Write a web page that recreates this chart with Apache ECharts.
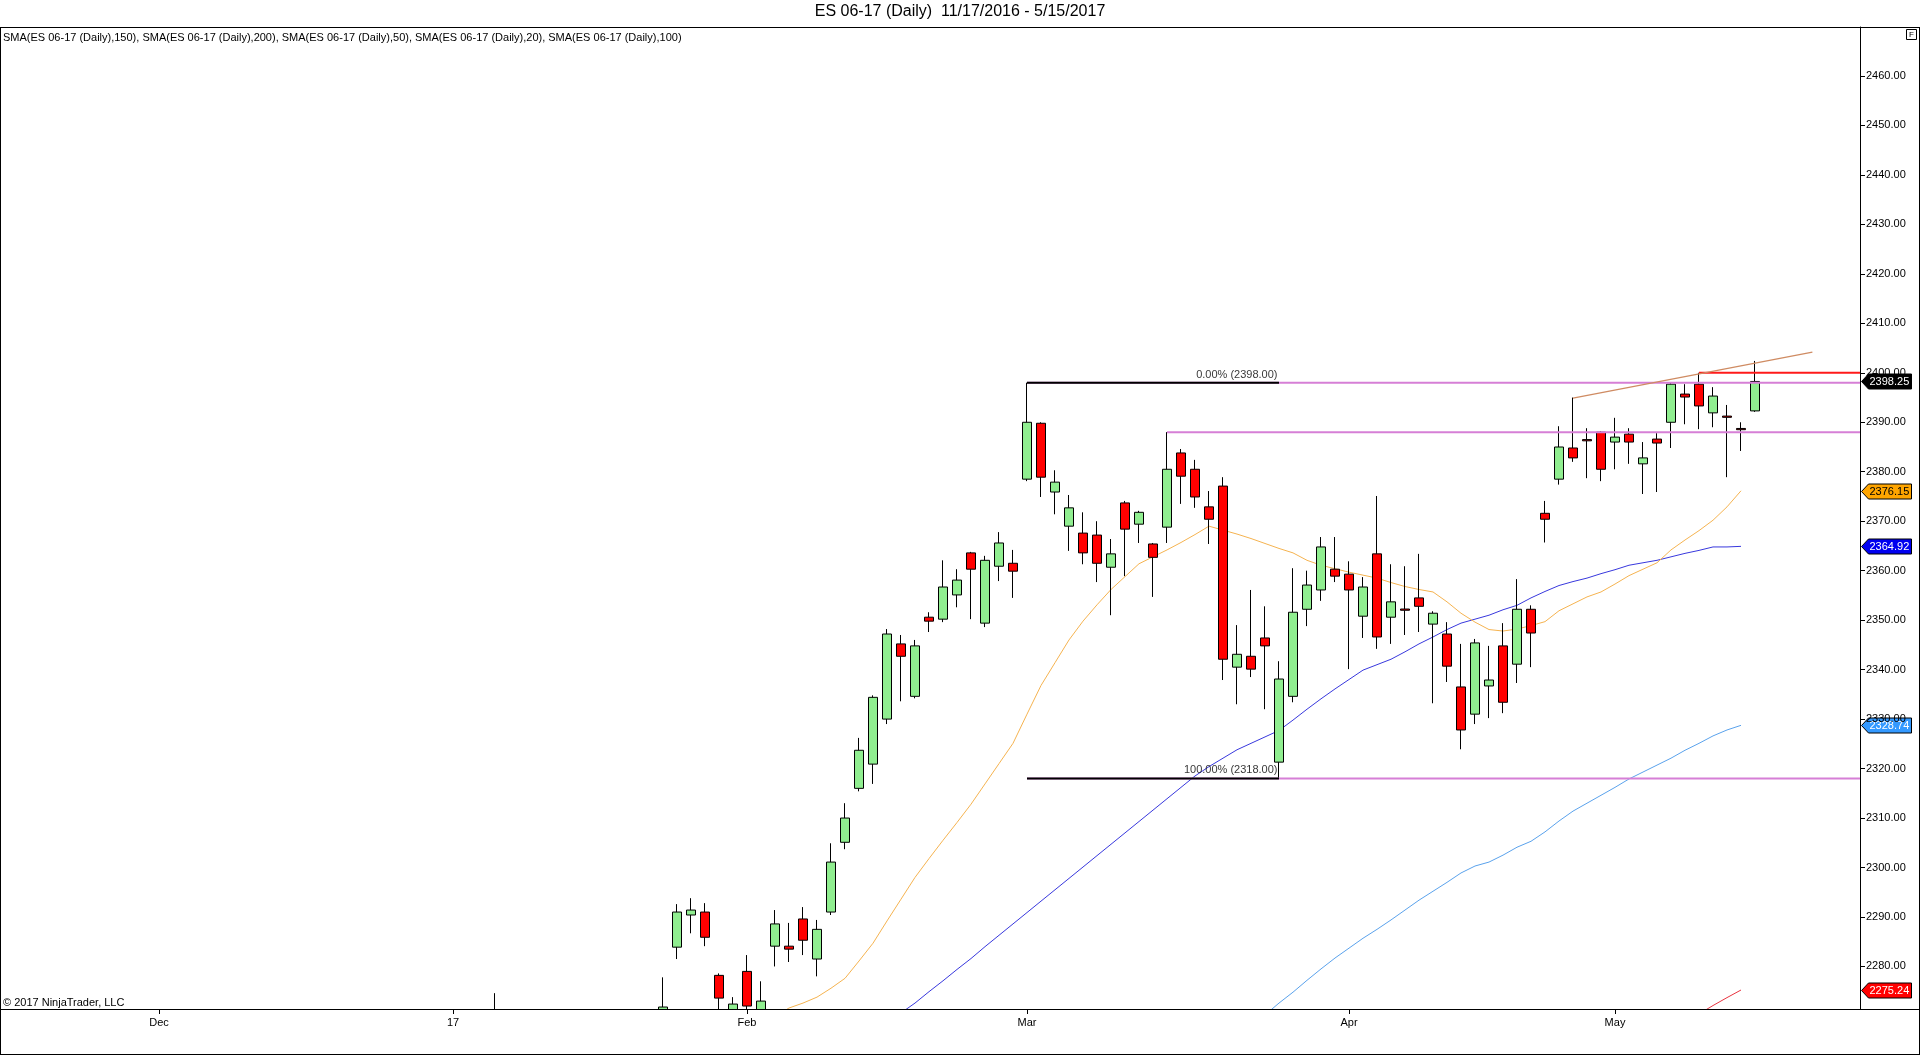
<!DOCTYPE html>
<html><head><meta charset="utf-8">
<script src="https://cdn.jsdelivr.net/npm/echarts@6/dist/echarts.min.js"></script>
<style>html,body{margin:0;padding:0;background:#fff;overflow:hidden}#c{width:1920px;height:1055px}</style>
</head><body><div id="c"></div>
<script>
// ---------- calendar ----------
const calendarFrom = '2016-11-17';
const calendarTo = '2017-05-24';           // includes empty future slots on the right
const holidays = ['2016-12-26', '2017-01-02', '2017-04-14'];
const xTickDates = ['2016-12-01', '2017-01-03', '2017-02-01', '2017-03-01', '2017-04-03', '2017-05-01'];
const xTickLabels = ['Dec', '17', 'Feb', 'Mar', 'Apr', 'May'];

// ---------- price bars (from 2017-01-24 to 2017-05-15) ----------
const candleStart = '2017-01-24';
const opens = [2259,2283.9,2290.4,2291.0,2278.2,2269.5,2279.0,2268.5,2284.1,2284.1,2289.6,2281.5,2291.0,2305.1,2316.0,2320.9,2330.0,2345.2,2334.6,2350.6,2350.2,2355.1,2363.6,2349.4,2360.9,2361.5,2378.5,2389.8,2375.9,2369.0,2367.6,2367.2,2360.7,2373.7,2369.4,2365.4,2368.8,2383.8,2380.5,2372.9,2377.1,2340.5,2342.7,2346.4,2321.3,2334.6,2352.2,2356.1,2360.3,2359.3,2350.8,2363.4,2350.6,2352.25,2354.5,2349.2,2347.2,2336.5,2331.0,2336.7,2344.8,2341.1,2352.2,2371.6,2378.5,2384.8,2386.5,2388.0,2386.0,2387.6,2381.6,2386.6,2390.0,2395.7,2397.7,2391.9,2391.25,2388.75,2392.3];
const closes = [2271.8,2291.0,2291.4,2285.9,2273.6,2272.4,2272.0,2273.0,2288.6,2283.5,2285.3,2287.5,2301.1,2310.0,2323.7,2334.4,2347.2,2342.7,2344.8,2349.8,2356.7,2358.1,2360.3,2362.1,2365.6,2359.9,2390.0,2378.9,2377.9,2372.7,2363.6,2361.5,2363.4,2368.4,2371.8,2362.7,2380.5,2379.1,2374.9,2370.4,2342.1,2343.1,2340.1,2344.8,2338.1,2351.6,2357.1,2364.8,2358.9,2356.1,2356.7,2346.6,2353.7,2352.0,2352.8,2351.4,2340.7,2327.8,2345.4,2337.9,2333.4,2352.2,2347.4,2370.4,2385.0,2382.8,2386.25,2380.5,2387.0,2386.0,2382.8,2385.8,2397.7,2395.1,2393.3,2395.3,2391.0,2388.5,2398.25];
const lows = [2257,2281.5,2286.7,2284.1,2265,2263,2268,2264,2280.0,2280.9,2282.3,2278.0,2290.4,2303.7,2315.4,2316.9,2329.0,2333.6,2334.2,2347.6,2349.6,2352.6,2350.2,2348.6,2357.9,2354.5,2378.1,2374.9,2371.4,2364.0,2361.3,2357.7,2351.0,2358.9,2365.6,2354.7,2365.6,2373.5,2372.7,2365.4,2337.9,2333.0,2338.5,2332.0,2318.0,2333.4,2348.8,2353.9,2357.7,2340.1,2346.4,2344.2,2345.2,2347.0,2347.6,2333.2,2337.5,2323.9,2329.0,2330.2,2331.2,2337.3,2340.5,2365.7,2377.4,2382.0,2378.7,2378.1,2380.5,2381.6,2375.5,2375.9,2384.8,2389.6,2388.6,2389.0,2378.9,2384.2,2392.1];
const highs = [2277.8,2292.6,2293.8,2292.8,2278.6,2273.8,2282.3,2277.0,2291.4,2288.8,2292.0,2289.4,2304.9,2313.0,2326.2,2334.8,2348.2,2347.0,2346.0,2351.6,2362.1,2360.3,2363.8,2363.0,2367.8,2364.2,2398.0,2390.0,2380.3,2375.3,2371.8,2370.0,2366.4,2374.1,2372.1,2365.6,2388.0,2384.6,2382.4,2376.1,2378.9,2349.0,2356.1,2352.8,2341.7,2360.5,2360.0,2366.8,2366.8,2361.9,2358.7,2375.1,2361.3,2360.9,2363.4,2351.8,2349.6,2345.2,2346.2,2344.8,2349.4,2358.3,2353.0,2374.1,2389.2,2395.0,2388.8,2388.2,2390.9,2388.8,2386.0,2387.8,2398.1,2397.7,2400.0,2397.1,2393.5,2390.0,2402.4];
// earlier bar whose wick reaches into view
const earlyDates = ['2017-01-06'];
const earlyOpens = [2266];
const earlyCloses = [2268.5];
const earlyLows = [2262.5];
const earlyHighs = [2274.6];

// ---------- moving averages ----------
const sma20Start = '2017-02-02';
const sma20 = [2268.6,2269.9,2271.6,2272.6,2273.8,2275.6,2277.6,2281.1,2284.7,2289.2,2293.6,2298.0,2301.8,2305.5,2309.1,2312.8,2316.9,2321.0,2325.1,2331.0,2336.8,2341.4,2346.0,2349.8,2353.1,2356.2,2358.8,2361.4,2362.8,2364.2,2365.7,2367.3,2369.0,2368.2,2367.4,2366.5,2365.5,2364.5,2363.6,2362.1,2361.1,2360.4,2359.7,2359.1,2358.5,2357.6,2356.8,2356.2,2355.7,2353.7,2351.4,2349.6,2348.1,2347.8,2348.2,2348.9,2349.7,2351.9,2353.3,2354.7,2355.7,2357.3,2359.0,2360.3,2361.6,2364.2,2366.2,2368.1,2370.2,2372.9,2376.15];
const sma50Start = '2017-02-16';
const sma50 = [2270.6,2272.6,2274.9,2277.1,2279.4,2281.6,2284.0,2286.3,2288.6,2290.9,2293.2,2295.5,2297.8,2300.1,2302.4,2304.7,2307.0,2309.3,2311.6,2313.9,2316.2,2318.5,2320.4,2322.1,2323.8,2325.1,2326.4,2327.7,2329.8,2332.0,2334.1,2336.1,2338.0,2339.9,2341.0,2342.1,2343.6,2345.2,2346.6,2348.1,2349.4,2350.2,2351.0,2352.1,2353.0,2354.5,2355.8,2357.0,2357.8,2358.5,2359.4,2360.2,2361.1,2361.6,2362.1,2362.8,2363.5,2364.1,2364.8,2364.8,2364.92];
const sma100Start = '2017-03-24';
const sma100 = [2270.2,2272.6,2274.8,2277.2,2279.5,2281.7,2283.7,2285.7,2287.5,2289.4,2291.4,2293.4,2295.2,2297.0,2298.9,2300.3,2301.1,2302.5,2304.1,2305.3,2307.2,2309.4,2311.4,2313.0,2314.6,2316.2,2317.9,2319.3,2320.7,2322.1,2323.7,2325.1,2326.6,2327.8,2328.74];
const sma150Start = '2017-05-09';
const sma150 = [2270.4,2272.1,2273.7,2275.24];

// ---------- drawings ----------
const fibHighDate = '2017-03-01', fibLowDate = '2017-03-27';
const fibLevels = [2398, 2318];
const fibPercents = ['0.00%', '100.00%'];
const resistanceDate = '2017-03-15', resistanceLevel = 2388;
const redLineDate = '2017-05-09', redLineLevel = 2400;
const trendStartDate = '2017-04-26', trendStartValue = 2394.9;
const trendEndSlot = 128.6, trendEndValue = 2404.2;

// ---------- texts ----------
const titleText = 'ES 06-17 (Daily)  11/17/2016 - 5/15/2017';
const smaLegendText = 'SMA(ES 06-17 (Daily),150), SMA(ES 06-17 (Daily),200), SMA(ES 06-17 (Daily),50), SMA(ES 06-17 (Daily),20), SMA(ES 06-17 (Daily),100)';
const copyrightText = '\u00a9 2017 NinjaTrader, LLC';

// ================= build =================
function tradingDays(from, to) {
  const out = [];
  const d = new Date(from + 'T00:00:00Z');
  const end = new Date(to + 'T00:00:00Z');
  while (d <= end) {
    const wd = d.getUTCDay();
    const s = d.toISOString().slice(0, 10);
    if (wd !== 0 && wd !== 6 && holidays.indexOf(s) < 0) out.push(s);
    d.setUTCDate(d.getUTCDate() + 1);
  }
  return out;
}
const categories = tradingDays(calendarFrom, calendarTo);
const N = categories.length;
const idx = d => categories.indexOf(d);

const candleData = categories.map(() => ['-', '-', '-', '-']);
const c0 = idx(candleStart);
opens.forEach((o, k) => { candleData[c0 + k] = [o, closes[k], lows[k], highs[k]]; });
earlyDates.forEach((d, k) => { candleData[idx(d)] = [earlyOpens[k], earlyCloses[k], earlyLows[k], earlyHighs[k]]; });

function placeSeries(start, vals) {
  const arr = categories.map(() => null);
  const s = idx(start);
  vals.forEach((v, k) => { arr[s + k] = v; });
  return arr;
}

const FONT = '"Liberation Sans", Arial, sans-serif';
const slot = d => idx(d) + 0.5;

function lineSeries(name, points, color, width, z) {
  return {
    name, type: 'line', xAxisIndex: 1, yAxisIndex: 0, data: points,
    symbol: 'none', silent: true, animation: false, z: z || 5,
    lineStyle: { color, width }
  };
}
function smaSeries(name, start, vals, color) {
  return {
    name, type: 'line', xAxisIndex: 0, yAxisIndex: 0, data: placeSeries(start, vals),
    symbol: 'none', silent: true, animation: false, z: 1, connectNulls: false,
    lineStyle: { color, width: 1 }
  };
}

const tickSet = {};
xTickDates.forEach((d, i) => { tickSet[d] = xTickLabels[i]; });
const isTick = (i, v) => Object.prototype.hasOwnProperty.call(tickSet, categories[i]);

const fibStart = slot(fibHighDate), fibEnd = slot(fibLowDate);

const option = {
  animation: false,
  backgroundColor: '#ffffff',
  title: [
    { text: titleText, left: 'center', top: 4, padding: 0,
      textStyle: { fontFamily: FONT, fontSize: 16, fontWeight: 'normal', color: '#000' } },
    { text: smaLegendText, left: 3, top: 32, padding: 0,
      textStyle: { fontFamily: FONT, fontSize: 11, fontWeight: 'normal', color: '#000' } },
    { text: copyrightText, left: 3, top: 997, padding: 0,
      textStyle: { fontFamily: FONT, fontSize: 11, fontWeight: 'normal', color: '#000' } }
  ],
  grid: { left: 12, right: 60, top: 27, bottom: 46, containLabel: false, outerBoundsMode: 'none', show: false },
  xAxis: [
    {
      type: 'category', data: categories, boundaryGap: true, z: 100,
      axisLine: { show: false, onZero: false },
      axisTick: { show: true, alignWithLabel: true, interval: isTick, length: 5, lineStyle: { color: '#000', width: 1 } },
      axisLabel: { interval: isTick, formatter: v => tickSet[v] || '', fontFamily: FONT, fontSize: 11, color: '#000', margin: 8 },
      splitLine: { show: false }
    },
    { type: 'value', min: 0, max: N, show: false, axisLine: { show: false, onZero: false }, axisTick: { show: false }, axisLabel: { show: false }, splitLine: { show: false } }
  ],
  yAxis: [{
    type: 'value', position: 'right', min: 2271.4, max: 2469.9, splitNumber: 20, z: 100,
    axisLine: { show: true, onZero: false, lineStyle: { color: '#000', width: 1 } },
    axisTick: { show: true, inside: false, length: 5, lineStyle: { color: '#000' } },
    axisLabel: { formatter: v => v.toFixed(2), fontFamily: FONT, fontSize: 11, color: '#000', margin: 6,
                 showMinLabel: false, showMaxLabel: false },
    splitLine: { show: false }
  }],
  series: [
    smaSeries('SMA150', sma150Start, sma150, '#E8333F'),
    smaSeries('SMA50', sma50Start, sma50, '#3838DD'),
    smaSeries('SMA20', sma20Start, sma20, '#F5B350'),
    smaSeries('SMA100', sma100Start, sma100, '#5AA2EC'),
    {
      name: 'ES 06-17', type: 'candlestick', xAxisIndex: 0, yAxisIndex: 0,
      data: candleData, barWidth: 9, clip: true, z: 3, silent: true,
      itemStyle: { color: '#90EE90', color0: '#FF0000', borderColor: '#000', borderColor0: '#000', borderWidth: 1 }
    },
    lineSeries('fib0pink', [[fibStart, fibLevels[0]], [N, fibLevels[0]]], '#D67FD6', 2, 6),
    lineSeries('fib100pink', [[fibStart, fibLevels[1]], [N, fibLevels[1]]], '#D67FD6', 2, 6),
    lineSeries('fib0', [[fibStart, fibLevels[0]], [fibEnd, fibLevels[0]]], '#000', 2, 7),
    lineSeries('fib100', [[fibStart, fibLevels[1]], [fibEnd, fibLevels[1]]], '#000', 2, 7),
    lineSeries('resist', [[slot(resistanceDate), resistanceLevel], [N, resistanceLevel]], '#D67FD6', 2, 6),
    lineSeries('red2400', [[slot(redLineDate), redLineLevel], [N, redLineLevel]], '#FF1A1A', 2, 7),
    lineSeries('trend', [[slot(trendStartDate), trendStartValue], [trendEndSlot, trendEndValue]], '#CF8B62', 1.3, 7),
    {
      name: 'fibLabels', type: 'scatter', xAxisIndex: 1, yAxisIndex: 0, silent: true, z: 8,
      symbolSize: 1, itemStyle: { color: 'transparent' },
      data: fibLevels.map((lv, i) => ({ value: [fibEnd, lv], name: fibPercents[i] + ' (' + lv.toFixed(2) + ')' })),
      label: { show: true, formatter: p => p.name, position: [-1, -2], align: 'right', verticalAlign: 'bottom',
               fontFamily: FONT, fontSize: 11, color: '#000' }
    }
  ]
};

const chart = echarts.init(document.getElementById('c'), null, { renderer: 'canvas' });
chart.setOption(option);

// value flags on the price axis + frame
const flagValues = [closes[closes.length - 1], sma20[sma20.length - 1], sma50[sma50.length - 1], sma100[sma100.length - 1], sma150[sma150.length - 1]];
const flagFills = ['#000000', '#FFA500', '#0000F0', '#3399FF', '#FF0000'];
const flagTextColors = ['#ffffff', '#000000', '#ffffff', '#ffffff', '#ffffff'];

const g = [];
const axisX = chart.convertToPixel({ xAxisIndex: 1 }, N);
const topY = Math.round(chart.convertToPixel({ yAxisIndex: 0 }, 2469.9));
const botY = Math.round(chart.convertToPixel({ yAxisIndex: 0 }, 2271.4));
// mask below the price pane (bars reaching below the visible price range)
g.push({ type: 'rect', silent: true, z: 40, shape: { x: 1, y: botY + 1, width: 1918, height: 1053 - botY }, style: { fill: '#fff' } });
g.push({ type: 'line', silent: true, z: 50, shape: { x1: 0, y1: topY + 0.5, x2: 1920, y2: topY + 0.5 }, style: { stroke: '#000', lineWidth: 1 } });
g.push({ type: 'line', silent: true, z: 50, shape: { x1: 0, y1: botY + 0.5, x2: 1920, y2: botY + 0.5 }, style: { stroke: '#000', lineWidth: 1 } });
g.push({ type: 'line', silent: true, z: 50, shape: { x1: 0.5, y1: topY, x2: 0.5, y2: 1055 }, style: { stroke: '#000', lineWidth: 1 } });
g.push({ type: 'line', silent: true, z: 50, shape: { x1: 1919.5, y1: topY, x2: 1919.5, y2: 1055 }, style: { stroke: '#000', lineWidth: 1 } });
g.push({ type: 'line', silent: true, z: 50, shape: { x1: 0, y1: 1054.5, x2: 1920, y2: 1054.5 }, style: { stroke: '#000', lineWidth: 1 } });
// "F" box
g.push({ type: 'rect', silent: true, z: 50, shape: { x: 1906.5, y: 29.5, width: 10, height: 10 }, style: { fill: '#fff', stroke: '#000', lineWidth: 1 } });
g.push({ type: 'text', silent: true, z: 51, x: 1911.5, y: 35, style: { text: 'F', fill: '#000', font: '8px ' + FONT, align: 'center', verticalAlign: 'middle' } });

flagValues.forEach((v, i) => {
  const y = Math.round(chart.convertToPixel({ yAxisIndex: 0 }, v)) + 0.5;
  const x0 = Math.round(axisX) + 1.5;
  g.push({ type: 'polygon', silent: true, z: 60,
    shape: { points: [[x0, y], [x0 + 7, y - 7.5], [x0 + 50, y - 7.5], [x0 + 50, y + 7.5], [x0 + 7, y + 7.5]] },
    style: { fill: flagFills[i], stroke: '#000', lineWidth: 1 } });
  g.push({ type: 'text', silent: true, z: 61, x: x0 + 8, y: y,
    style: { text: v.toFixed(2), fill: flagTextColors[i], font: '11px ' + FONT, align: 'left', verticalAlign: 'middle' } });
});
chart.setOption({ graphic: g });
</script>
</body></html>
